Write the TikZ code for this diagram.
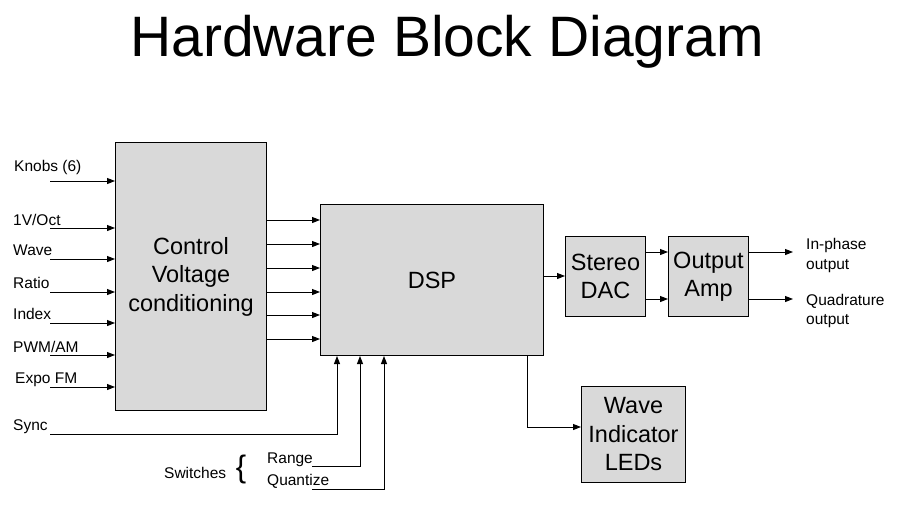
\documentclass[tikz,border=0pt]{standalone}
\usepackage{fontspec}
\setmainfont{Liberation Sans}
\usetikzlibrary{arrows.meta}
\definecolor{boxgray}{HTML}{D9D9D9}
\begin{document}
\begin{tikzpicture}[x=1pt,y=-1pt,
  box/.style={draw=black, line width=1pt, fill=boxgray, align=center, inner sep=0pt,
    font=\fontsize{23.5}{28.5}\selectfont},
  arr/.style={-{Triangle[length=8pt,width=6pt]}, line width=1pt},
  lbl/.style={font=\fontsize{15.5}{19.5}\selectfont, inner sep=0pt, anchor=base west}]
\path[use as bounding box] (0,0) rectangle (908,515);

\node[font=\fontsize{57}{60}\selectfont, anchor=base, inner sep=0pt] (title) at (447,56) {Hardware Block Diagram};

% blocks
\node[box, minimum width=151, minimum height=268, anchor=north west] (cv) at (115,142) {Control\\Voltage\\conditioning};
\node[box, minimum width=223, minimum height=151, anchor=north west] (dsp) at (320,204) {DSP};
\node[box, minimum width=80, minimum height=80, anchor=north west] (dac) at (565,236) {Stereo\\DAC};
\node[box, minimum width=80, minimum height=80, anchor=north west] (amp) at (668,236) {Output\\Amp};
\node[box, minimum width=104, minimum height=96, anchor=north west] (led) at (581,386) {Wave\\Indicator\\LEDs};

% input labels
\node[lbl] (lknobs) at (14,171) {Knobs (6)};
\node[lbl] (loct) at (13,225) {1V/Oct};
\node[lbl] (lwave) at (13,255) {Wave};
\node[lbl] (lratio) at (13,288) {Ratio};
\node[lbl] (lindex) at (13,319) {Index};
\node[lbl] (lpwm) at (13,352) {PWM/AM};
\node[lbl] (lexpo) at (15,383) {Expo FM};
\node[lbl] (lsync) at (13,430) {Sync};
\node[lbl] (lsw) at (164,478) {Switches};
\node[font=\fontsize{31}{31}\selectfont, inner sep=0pt] (brace) at (241,469) {\{};
\node[lbl] (lrange) at (267,463) {Range};
\node[lbl] (lquant) at (267,485) {Quantize};

% input arrows
\foreach \n/\y in {knobs/181, oct/228, wave/259, ratio/292, index/323, pwm/355, expo/387}{
  \coordinate (in\n) at (50,\y);
  \draw[arr] (in\n) -- (cv.west |- in\n);
}

% CV -> DSP
\foreach \y in {220,244,268,292,315,339}{
  \draw[arr] (cv.east |- 0,\y) -- (dsp.west |- 0,\y);
}

% Sync and switches
\coordinate (sync) at (50,434);
\coordinate (range) at (312,466);
\coordinate (quant) at (312,489);
\draw[arr] (sync) -| (dsp.south -| 337,0);
\draw[arr] (range) -| (dsp.south -| 360,0);
\draw[arr] (quant) -| (dsp.south -| 384,0);

% DSP -> DAC -> Amp
\draw[arr] (dsp.east |- 0,276) -- (dac.west |- 0,276);
\draw[arr] (dac.east |- 0,252) -- (amp.west |- 0,252);
\draw[arr] (dac.east |- 0,299) -- (amp.west |- 0,299);

% outputs
\coordinate (oin) at (793,252);
\coordinate (oquad) at (793,299);
\draw[arr] (amp.east |- oin) -- (oin);
\draw[arr] (amp.east |- oquad) -- (oquad);
\node[lbl] (linph) at (806,249) {In-phase};
\node[lbl] (linph2) at (806,269) {output};
\node[lbl] (lquad) at (806,305) {Quadrature};
\node[lbl] (lquad2) at (806,324) {output};

% DSP -> LEDs
\draw[arr] (dsp.south -| 527,0) |- (led.west |- 0,427);
\end{tikzpicture}
\end{document}
